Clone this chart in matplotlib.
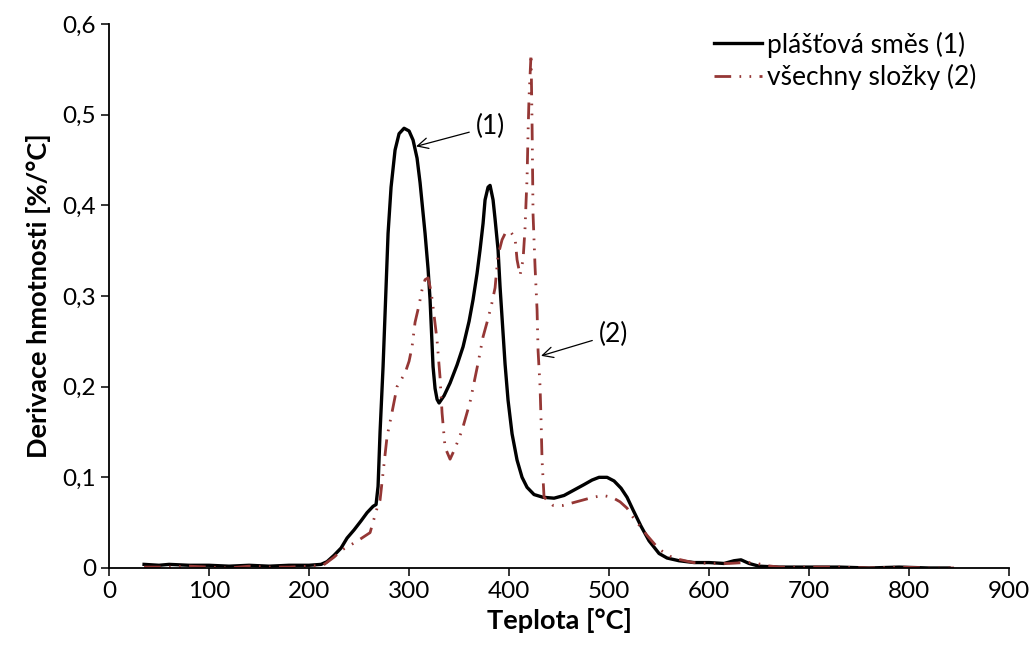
import matplotlib.pyplot as plt
from matplotlib.ticker import FuncFormatter, MultipleLocator

plt.rcParams['font.family'] = ['Lato', 'DejaVu Sans']

# series (1) - plášťová směs
temp_1 = [35, 50, 60, 80, 100, 120, 140, 160, 180, 200, 212, 218, 225, 232, 238,
          245, 252, 258, 264, 267, 269, 271, 274, 277, 279, 282, 286, 290, 295,
          300, 304, 308, 311, 316, 319, 321, 324, 326, 328, 330, 335, 341, 348,
          354, 360, 364, 368, 371, 374, 376, 379, 381, 384, 386, 389, 391, 394,
          396, 399, 403, 408, 413, 418, 425, 434, 445, 455, 465, 475, 483, 490,
          498, 505, 512, 518, 524, 532, 540, 550, 558, 570, 585, 600, 615, 625,
          632, 640, 650, 670, 700, 730, 760, 790, 820, 840]
deriv_1 = [0.004, 0.003, 0.004, 0.003, 0.003, 0.002, 0.003, 0.002, 0.003, 0.003,
           0.004, 0.007, 0.014, 0.022, 0.033, 0.042, 0.052, 0.061, 0.068, 0.070,
           0.090, 0.150, 0.222, 0.310, 0.369, 0.420, 0.461, 0.479, 0.485, 0.482,
           0.472, 0.452, 0.425, 0.369, 0.330, 0.296, 0.222, 0.198, 0.186, 0.182,
           0.190, 0.204, 0.224, 0.244, 0.272, 0.296, 0.325, 0.351, 0.380, 0.406,
           0.420, 0.422, 0.406, 0.385, 0.351, 0.310, 0.259, 0.225, 0.185, 0.148,
           0.119, 0.100, 0.089, 0.081, 0.078, 0.077, 0.080, 0.086, 0.092, 0.097,
           0.100, 0.100, 0.096, 0.088, 0.078, 0.064, 0.046, 0.030, 0.016, 0.011,
           0.008, 0.006, 0.006, 0.005, 0.008, 0.009, 0.005, 0.002, 0.001, 0.001,
           0.001, 0.000, 0.001, 0.000, 0.000]

# series (2) - všechny složky
temp_2 = [35, 60, 80, 100, 120, 140, 160, 180, 200, 214, 225, 233, 241, 250, 261,
          268, 271, 274, 278, 283, 288, 296, 300, 303, 306, 310, 313, 316, 319,
          322, 324, 328, 331, 333, 336, 341, 346, 353, 361, 369, 374, 379, 383,
          386, 389, 393, 397, 402, 406, 408, 411, 414, 416, 417, 418, 419, 420,
          422, 423, 424, 426, 428, 429, 431, 432, 433, 435, 444, 454, 464, 474,
          484, 494, 503, 511, 518, 524, 531, 538, 545, 551, 564, 584, 600, 620,
          635, 645, 655, 670, 700, 730, 760, 790, 820, 845]
deriv_2 = [0.001, 0.001, 0.002, 0.001, 0.000, 0.002, 0.001, 0.001, 0.002, 0.003,
           0.012, 0.020, 0.025, 0.031, 0.039, 0.066, 0.075, 0.105, 0.145, 0.172,
           0.200, 0.215, 0.228, 0.244, 0.271, 0.290, 0.307, 0.318, 0.320, 0.305,
           0.288, 0.251, 0.210, 0.171, 0.133, 0.120, 0.132, 0.152, 0.183, 0.226,
           0.255, 0.275, 0.293, 0.309, 0.345, 0.362, 0.371, 0.370, 0.364, 0.340,
           0.323, 0.340, 0.375, 0.404, 0.430, 0.480, 0.520, 0.567, 0.490, 0.390,
           0.332, 0.285, 0.240, 0.200, 0.163, 0.119, 0.078, 0.069, 0.069, 0.072,
           0.075, 0.078, 0.080, 0.078, 0.073, 0.066, 0.056, 0.046, 0.036, 0.027,
           0.020, 0.011, 0.006, 0.005, 0.005, 0.006, 0.006, 0.003, 0.001, 0.001,
           0.001, 0.000, 0.001, 0.000, 0.000]

labels = ['plášťová směs (1)', 'všechny složky (2)']

fig = plt.figure(figsize=(10.29, 6.61), dpi=100)
ax = fig.add_axes([0.106, 0.1407, 0.8746, 0.823])

ax.plot(temp_1, deriv_1, color='black', lw=2.4, label=labels[0])
ax.plot(temp_2, deriv_2, color='#953735', lw=2.0,
        linestyle=(0, (6, 3, 0.6, 3, 0.6, 3)), label=labels[1])

# arrow labels: text starts right where the arrow line ends
ax.annotate('(1)', xy=(307, 0.465), xytext=(367, 0.487), fontsize=19,
            va='center', ha='left',
            arrowprops=dict(arrowstyle='->', color='black', lw=0.9,
                            shrinkA=3, shrinkB=0))
ax.annotate('(2)', xy=(432, 0.234), xytext=(490, 0.258), fontsize=19,
            va='center', ha='left',
            arrowprops=dict(arrowstyle='->', color='black', lw=0.9,
                            shrinkA=3, shrinkB=0))

ax.set_xlim(0, 900)
ax.set_ylim(0, 0.6)
ax.xaxis.set_major_locator(MultipleLocator(100))
ax.yaxis.set_major_locator(MultipleLocator(0.1))
ax.yaxis.set_major_formatter(FuncFormatter(
    lambda v, p: '0' if abs(v) < 1e-9 else f'{v:.1f}'.replace('.', ',')))

for s in ['top', 'right']:
    ax.spines[s].set_visible(False)
for s in ['left', 'bottom']:
    ax.spines[s].set_linewidth(1.3)
ax.tick_params(axis='both', labelsize=17.5, width=1.1, length=6, direction='out')

ax.set_xlabel('Teplota [°C]', fontsize=19.5, fontweight='bold', labelpad=4)
ax.set_ylabel('Derivace hmotnosti [%/°C]', fontsize=19.5, fontweight='bold',
              labelpad=8)

ax.legend(loc='upper right', bbox_to_anchor=(0.99, 1.03), frameon=False,
          fontsize=19, handlelength=1.8, handletextpad=0.2, labelspacing=0.25)

fig.savefig('out.png', dpi=100)
